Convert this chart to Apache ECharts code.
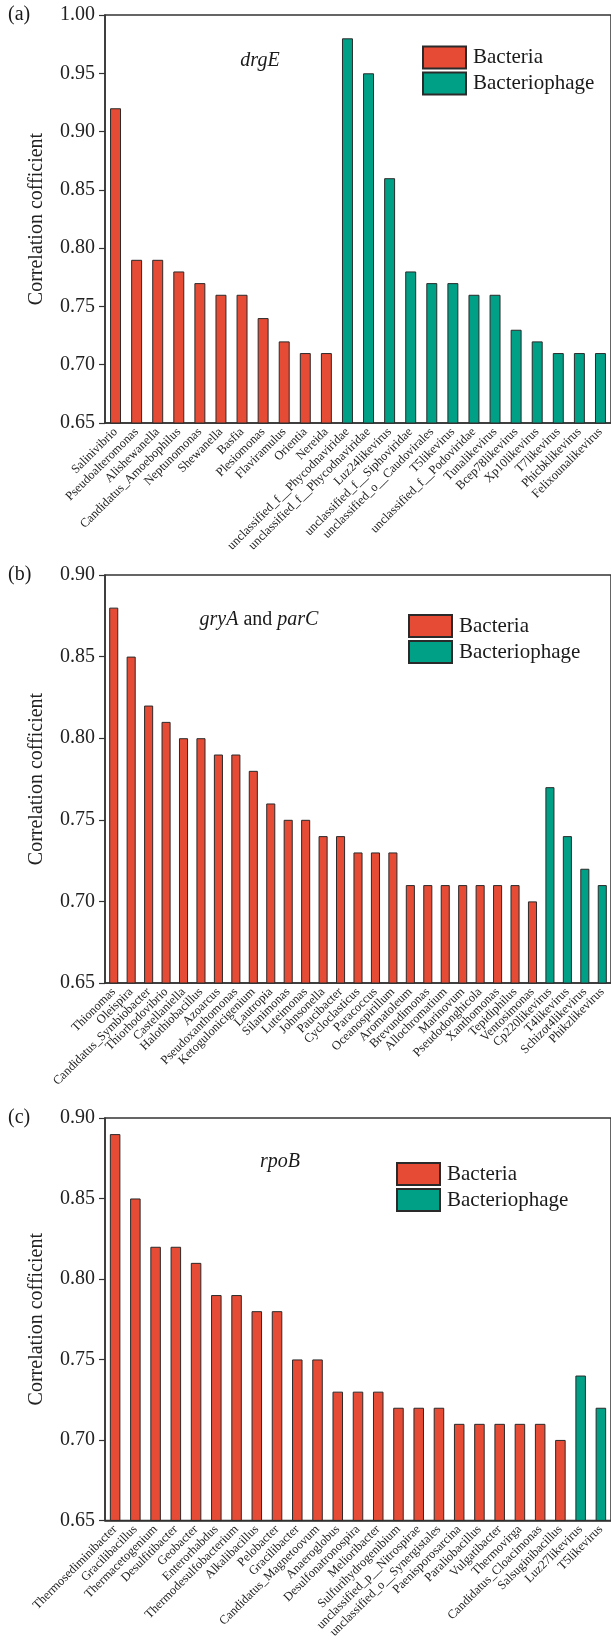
<!DOCTYPE html>
<html>
<head>
<meta charset="utf-8">
<script src="https://cdn.jsdelivr.net/npm/echarts@6/dist/echarts.min.js"></script>
<style>
  html, body { margin: 0; padding: 0; background: #fff; }
  #chart { width: 611px; height: 1641px; }
</style>
</head>
<body>
<div id="chart"></div>
<script>
// ---- drgE ----
const drgBacteriaNames = ['Salinivibrio', 'Pseudoalteromonas', 'Alishewanella', 'Candidatus_Amoebophilus',
  'Neptunomonas', 'Shewanella', 'Basfia', 'Plesiomonas', 'Flaviramulus', 'Orientia', 'Nereida'];
const drgBacteriaValues = [0.92, 0.79, 0.79, 0.78, 0.77, 0.76, 0.76, 0.74, 0.72, 0.71, 0.71];
const drgPhageNames = ['unclassified_f__Phycodnaviridae', 'unclassified_f__Phycodnaviridae ', 'Luz24likevirus',
  'unclassified_f__Siphoviridae', 'unclassified_o__Caudovirales', 'T5likevirus', 'unclassified_f__Podoviridae',
  'Tunalikevirus', 'Bcep78likevirus', 'Xp10likevirus', 'T7likevirus', 'Phicbklikevirus', 'Felixounalikevirus'];
const drgPhageValues = [0.98, 0.95, 0.86, 0.78, 0.77, 0.77, 0.76, 0.76, 0.73, 0.72, 0.71, 0.71, 0.71];

// ---- gryA and parC ----
const gryBacteriaNames = ['Thionomas', 'Oleispira', 'Candidatus_Symbiobacter', 'Thiorhodovibrio', 'Castellaniella',
  'Halothiobacillus', 'Azoarcus', 'Pseudoxanthomonas', 'Ketogulonicigenium', 'Lautropia', 'Silanimonas',
  'Luteimonas', 'Johnsonella', 'Paucibacter', 'Cycloclasticus', 'Paracoccus', 'Oceanospirillum', 'Aromatoleum',
  'Brevundimonas', 'Allochromatium', 'Marinovum', 'Pseudodonghicola', 'Xanthomonas', 'Tepidiphilus', 'Ventosimonas'];
const gryBacteriaValues = [0.88, 0.85, 0.82, 0.81, 0.80, 0.80, 0.79, 0.79, 0.78, 0.76, 0.75, 0.75, 0.74, 0.74,
  0.73, 0.73, 0.73, 0.71, 0.71, 0.71, 0.71, 0.71, 0.71, 0.71, 0.70];
const gryPhageNames = ['Cp220likevirus', 'T4likevirus', 'Schizot4likevirus', 'Phikzlikevirus'];
const gryPhageValues = [0.77, 0.74, 0.72, 0.71];

// ---- rpoB ----
const rpoBacteriaNames = ['Thermosediminibacter', 'Gracilibacillus', 'Thermacetogenium', 'Desulfitibacter',
  'Geobacter', 'Enterorhabdus', 'Thermodesulfobacterium', 'Alkalibacillus', 'Pelobacter', 'Gracilibacter',
  'Candidatus_Magnetoovum', 'Anaeroglobus', 'Desulfonatronospira', 'Melioribacter', 'Sulfurihydrogenibium',
  'unclassified_p__Nitrospirae', 'unclassified_o__Synergistales', 'Paenisporosarcina', 'Paraliobacillus',
  'Vulgatibacter', 'Thermovirga', 'Candidatus_Cloacimonas', 'Salsuginibacillus'];
const rpoBacteriaValues = [0.89, 0.85, 0.82, 0.82, 0.81, 0.79, 0.79, 0.78, 0.78, 0.75, 0.75, 0.73, 0.73, 0.73,
  0.72, 0.72, 0.72, 0.71, 0.71, 0.71, 0.71, 0.71, 0.70];
const rpoPhageNames = ['Luz27likevirus', 'T5likevirus'];
const rpoPhageValues = [0.74, 0.72];

const yTicksA = [0.65, 1.00];   // min / max of the drgE axis
const yTicksBC = [0.65, 0.90];  // min / max of the other two axes
const yStep = 0.05;

const RED = '#E64B35';
const TEAL = '#00A087';
const EDGE = '#2a2a2a';
const SERIF = '"Liberation Serif", "Times New Roman", serif';

const panels = [
  { bn: drgBacteriaNames, bv: drgBacteriaValues, pn: drgPhageNames, pv: drgPhageValues, y: yTicksA,
    top: 15, height: 408, legend: [417, 40.5], gene: '{i|drgE}', geneXY: [260, 61], letter: '(a)' },
  { bn: gryBacteriaNames, bv: gryBacteriaValues, pn: gryPhageNames, pv: gryPhageValues, y: yTicksBC,
    top: 575, height: 408, legend: [403, 609], gene: '{i|gryA} and {i|parC}', geneXY: [259, 620], letter: '(b)' },
  { bn: rpoBacteriaNames, bv: rpoBacteriaValues, pn: rpoPhageNames, pv: rpoPhageValues, y: yTicksBC,
    top: 1118, height: 407, legend: [391, 1157], gene: '{i|rpoB}', geneXY: [280, 1162], letter: '(c)' }
];

const grid = [], xAxis = [], yAxis = [], series = [], legend = [], graphic = [];

panels.forEach((p, i) => {
  const cats = p.bn.concat(p.pn);
  const bacteria = p.bv.concat(p.pn.map(() => '-'));
  const phage = p.bn.map(() => '-').concat(p.pv);

  grid.push({
    left: 105, width: 508, top: p.top, height: p.height,
    show: true, borderColor: '#333', borderWidth: 1.5, backgroundColor: 'transparent'
  });
  xAxis.push({
    type: 'category', gridIndex: i, data: cats,
    axisLine: { lineStyle: { color: '#333', width: 1.5 } },
    axisTick: { alignWithLabel: true, interval: 0, length: 5, lineStyle: { color: '#333', width: 1.2 } },
    axisLabel: { interval: 0, rotate: 45, fontSize: 12.5, fontFamily: SERIF, color: '#222', margin: 7,
      formatter: v => v.trim() }
  });
  yAxis.push({
    type: 'value', gridIndex: i, min: p.y[0], max: p.y[1], interval: yStep,
    name: 'Correlation cofficient', nameLocation: 'middle', nameRotate: 90, nameGap: 58,
    nameTextStyle: { fontSize: 20, fontFamily: SERIF, color: '#222' },
    axisLine: { show: true, lineStyle: { color: '#333', width: 1.5 } },
    axisTick: { show: true, length: 6, lineStyle: { color: '#333', width: 1.2 } },
    splitLine: { show: false },
    axisLabel: { fontSize: 20, fontFamily: SERIF, color: '#222', margin: 10, formatter: v => v.toFixed(2) }
  });
  series.push({
    name: 'Bacteria', type: 'bar', xAxisIndex: i, yAxisIndex: i, data: bacteria,
    barWidth: '52%', barGap: '-100%',
    itemStyle: { color: RED, borderColor: EDGE, borderWidth: 1 }
  });
  series.push({
    name: 'Bacteriophage', type: 'bar', xAxisIndex: i, yAxisIndex: i, data: phage,
    barWidth: '52%', barGap: '-100%',
    itemStyle: { color: TEAL, borderColor: EDGE, borderWidth: 1 }
  });
  legend.push({
    orient: 'vertical', left: p.legend[0], top: p.legend[1],
    data: ['Bacteria', 'Bacteriophage'],
    icon: 'rect', itemWidth: 43, itemHeight: 22, itemGap: 2, selectedMode: false,
    textStyle: { fontSize: 21, fontFamily: SERIF, color: '#1a1a1a', lineHeight: 22, padding: [0, 0, 0, 2] }
  });
  graphic.push({
    type: 'text', left: null, x: p.geneXY[0], y: p.geneXY[1],
    style: {
      text: p.gene, x: 0, y: 0, align: 'center', verticalAlign: 'middle',
      fontSize: 20, fontFamily: SERIF, fill: '#1a1a1a',
      rich: { i: { fontStyle: 'italic', fontSize: 20, fontFamily: SERIF, fill: '#1a1a1a' } }
    }
  });
  graphic.push({
    type: 'text', x: 8, y: p.top,
    style: { text: p.letter, x: 0, y: 0, verticalAlign: 'middle', fontSize: 20, fontFamily: SERIF, fill: '#1a1a1a' }
  });
});

const chart = echarts.init(document.getElementById('chart'), null, { renderer: 'canvas' });
chart.setOption({
  animation: false,
  backgroundColor: '#fff',
  grid, xAxis, yAxis, series, legend, graphic
});
</script>
</body>
</html>
